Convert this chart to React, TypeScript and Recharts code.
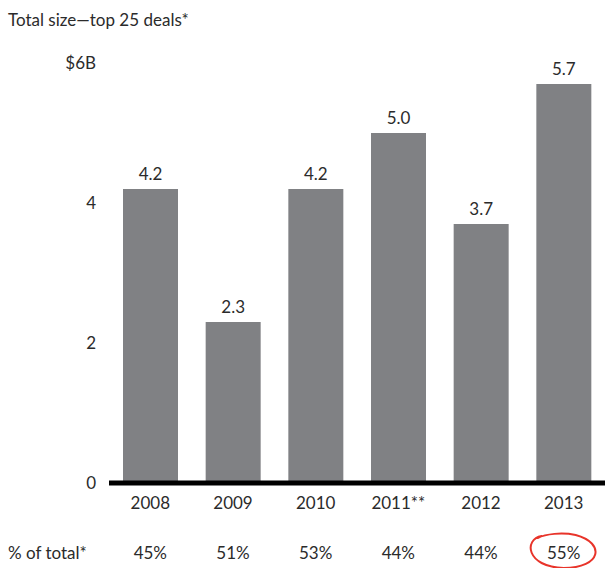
import { BarChart, Bar, XAxis, YAxis, LabelList } from "recharts";

const years = ["2008", "2009", "2010", "2011**", "2012", "2013"];
const totals = [4.2, 2.3, 4.2, 5.0, 3.7, 5.7];
const shares = ["45%", "51%", "53%", "44%", "44%", "55%"];
const yTicks = [0, 2, 4, 6];

const data = years.map((year, i) => ({ year, total: totals[i], share: shares[i] }));

const FONT = "Lato, 'Open Sans', sans-serif";
const INK = "#2b2b2b";

// bottom row of shares; the last one gets the hand-drawn red ring
const ShareTick = (props: any) => {
  const { x, y, payload, index } = props;
  const circled = index === shares.length - 1;
  return (
    <g>
      {circled && (
        <path
          d={`M ${x - 22} ${y + 8} C ${x - 40} ${y + 11}, ${x - 38} ${y + 39}, ${x} ${y + 40} C ${x + 38} ${y + 40}, ${x + 42} ${y + 15}, ${x + 12} ${y + 7} C ${x - 2} ${y + 4}, ${x - 18} ${y + 6}, ${x - 26} ${y + 10}`}
          fill="none"
          stroke="#e8342a"
          strokeWidth={2}
          strokeLinecap="round"
        />
      )}
      <text x={x} y={y + 25} dy="0.35em" textAnchor="middle" fill={INK} fontSize={17} fontFamily={FONT}>
        {payload.value}
      </text>
    </g>
  );
};

export default function App() {
  return (
    <div style={{ position: "absolute", left: 0, top: 0, width: 605, height: 568, background: "#fff", fontFamily: FONT }}>
      <div style={{ position: "absolute", left: 8, top: 8, fontSize: 17, color: INK, lineHeight: "24px" }}>
        Total size—top 25 deals*
      </div>
      <div style={{ position: "absolute", left: 8, top: 541, fontSize: 17, color: INK, lineHeight: "24px" }}>
        % of total*
      </div>
      <BarChart width={605} height={568} data={data} margin={{ top: 63, right: 0, left: 0, bottom: 0 }} barSize={55}>
        <YAxis
          type="number"
          domain={[0, 6]}
          ticks={yTicks}
          width={109}
          axisLine={false}
          tickLine={false}
          tickSize={0}
          tickMargin={13}
          tick={{ fontSize: 17, fill: INK, fontFamily: FONT }}
          tickFormatter={(v: number) => (v === 6 ? "$6B" : String(v))}
        />
        <XAxis
          xAxisId="axisYear"
          dataKey="year"
          height={45}
          axisLine={{ stroke: "#000", strokeWidth: 5 }}
          tickLine={false}
          tickSize={0}
          tickMargin={14}
          tick={{ fontSize: 17, fill: INK, fontFamily: FONT }}
        />
        <XAxis
          xAxisId="bottomShare"
          dataKey="share"
          height={40}
          axisLine={false}
          tickLine={false}
          tickSize={0}
          tickMargin={0}
          tick={<ShareTick />}
        />
        <Bar xAxisId="axisYear" dataKey="total" fill="#808184" isAnimationActive={false}>
          <LabelList
            dataKey="total"
            position="top"
            offset={9}
            formatter={(v: any) => Number(v).toFixed(1)}
            style={{ fontSize: 17, fill: INK, fontFamily: FONT }}
          />
        </Bar>
      </BarChart>
    </div>
  );
}
